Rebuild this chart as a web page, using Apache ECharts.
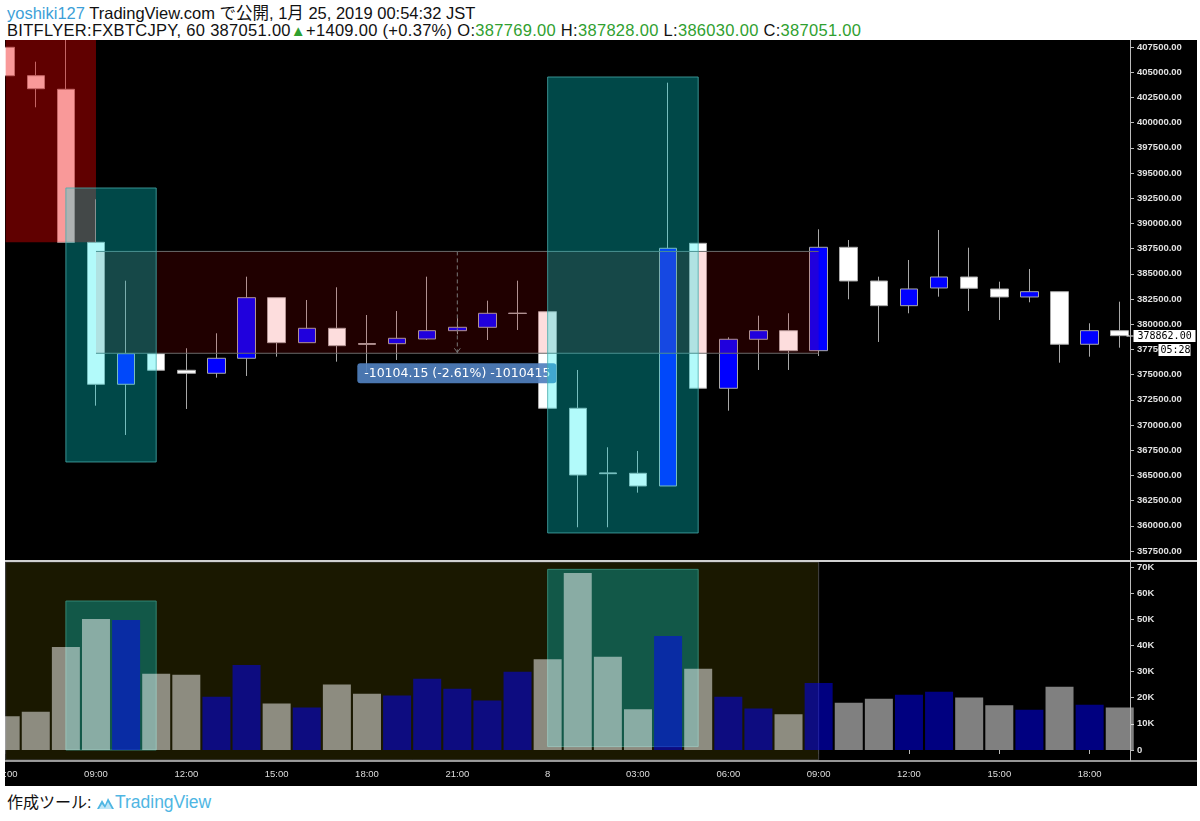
<!DOCTYPE html>
<html><head><meta charset="utf-8">
<script src="https://cdn.jsdelivr.net/npm/echarts@6/dist/echarts.min.js"></script>
<style>
html,body{margin:0;padding:0;background:#fff;width:1200px;height:821px;overflow:hidden;font-family:"Liberation Sans","Noto Sans CJK JP",sans-serif;}
.hl{position:absolute;left:7px;font-size:16.5px;line-height:18px;color:#111;white-space:nowrap}
#h1{top:4px}
#h2{top:21px;letter-spacing:0.3px}
.b{color:#3d9fd8}
.g{color:#2fa02f}
.tri{color:#2fa02f;font-size:15px}
#wrap{position:absolute;left:5px;top:40px;width:1192px;height:746px;background:#000;overflow:hidden}
#chart{position:absolute;left:-15px;top:0;width:1207px;height:746px}
#foot{position:absolute;left:7px;top:793px;font-size:16px;line-height:19px;color:#111;white-space:nowrap}
#foot svg{vertical-align:-3px}
#foot .tv{color:#4fb6e3;font-size:17.5px}
</style></head>
<body>
<div id="h1" class="hl"><span class="b">yoshiki127</span> TradingView.com で公開, 1月 25, 2019 00:54:32 JST</div>
<div id="h2" class="hl">BITFLYER:FXBTCJPY, 60 387051.00<span class="tri">▲</span>+1409.00 (+0.37%) O:<span class="g">387769.00</span> H:<span class="g">387828.00</span> L:<span class="g">386030.00</span> C:<span class="g">387051.00</span></div>
<div id="wrap"><div id="chart"></div></div>
<div id="foot">作成ツール: <svg width="19" height="15" viewBox="0 0 19 15"><path d="M1 13 L6 4 L9 9 L12 2 L18 13 Z" fill="#4fb6e3"/><path d="M3 13 L6 8 L9 12 L12 6 L16 13 Z" fill="#bfe6f7"/></svg><span class="tv">TradingView</span></div>
<script>
// ---- categories (60-minute bars, 7th 06:00 -> 8th 19:00) ----
const categories = ['07 06:00','07 07:00','07 08:00','07 09:00','07 10:00','07 11:00','07 12:00','07 13:00','07 14:00','07 15:00','07 16:00','07 17:00','07 18:00','07 19:00','07 20:00','07 21:00','07 22:00','07 23:00','08 00:00','08 01:00','08 02:00','08 03:00','08 04:00','08 05:00','08 06:00','08 07:00','08 08:00','08 09:00','08 10:00','08 11:00','08 12:00','08 13:00','08 14:00','08 15:00','08 16:00','08 17:00','08 18:00','08 19:00'];

// ---- OHLC ----
const opens  = [407470,404653,403304,388126,374040,377075,375429,375131,376619,382631,378167,379595,378080,378067,378534,379357,379694,381060,381242,371659,365250,365211,363951,388027,373643,378504,379357,377373,387630,384287,381837,383593,384684,383494,382700,383226,378008,379357];
const closes = [404653,403363,388126,374040,377075,375429,375131,376619,382631,378167,379595,377869,378000,378603,379357,379694,381083,381100,371659,365042,365170,363951,387531,373643,378504,379357,377373,387630,384287,381837,383494,384684,383563,382700,383226,378008,379357,378862];
const highs  = [407470,406042,408300,392392,384317,377075,377611,379099,384714,382631,382402,383662,380914,381311,384714,380600,382333,384317,381242,375458,367790,367423,403959,388027,378700,380845,381083,389416,388354,384714,386370,389346,387591,384218,385478,383226,380091,382234];
const lows   = [404653,401518,388126,371917,369010,375429,371590,374695,374863,376778,378167,376282,375260,376450,378434,379000,378434,379426,371659,359854,359854,363287,363951,373643,371421,375458,375458,376847,382472,378236,381083,382730,381311,380418,382174,376183,376778,377671];

// ---- volume ----
const volumes = [12900,14600,39400,50100,49700,29200,28800,20400,32500,17800,16300,25100,21500,20800,27300,23400,18900,29900,34700,67700,35700,15600,43600,31100,20400,15900,13700,25600,18100,19600,21100,22300,20100,17100,15400,24200,17300,16300];

// ---- price axis / volume axis ----
const priceMin = 357500, priceMax = 407500, priceStep = 2500;
const volMin = 0, volMax = 70000, volStep = 10000;

// ---- drawings (category index from/to, price top/bottom) ----
const mainZones = [[0,3,408200,388130],[2,5,393513,366332],[18,23,404524,359289]];
const rangeBox = [[3,27,387219,377115,15]];      // from, to, start price, end price, ruler index
const rangeDelta = -10104.15, rangePct = -2.61, rangeTicks = -1010415;
const volZones = [[0,27,71900,-3800],[2,5,57000,0],[18,23,69100,1300]];
const lastPrice = [[37,378862]];
const countdown = '05:28';

const zoneFill = ['rgba(240,0,0,0.4)','rgba(0,240,240,0.3)','rgba(0,240,240,0.3)'];
const zoneStroke = [null,'rgba(70,170,170,0.8)','rgba(70,170,170,0.8)'];
const volFill = ['#1a1800','rgba(0,240,240,0.3)','rgba(0,240,240,0.3)'];
const volStroke = ['#444','rgba(60,150,130,0.8)','rgba(60,150,130,0.8)'];

const chart = echarts.init(document.getElementById('chart'));
const labelFmt = v => v.slice(3) === '00:00' ? String(+v.slice(0,2)) : v.slice(3);

function zoneRender(fills, strokes){
  return function(params, api){
    const i = params.dataIndex;
    const a = api.coord([api.value(0), api.value(2)]);
    const b = api.coord([api.value(1), api.value(3)]);
    return {type:'rect', shape:{x:a[0], y:a[1], width:b[0]-a[0], height:b[1]-a[1]},
      style:{fill:fills[i], stroke:strokes[i] || null, lineWidth:1}};
  };
}

const axisText = {color:'#e0e0e0', fontSize:9.5, fontWeight:'bold', margin:7, fontFamily:'Liberation Sans'};

const option = {
  backgroundColor:'#000',
  animation:false,
  grid:[
    {left:0.6, width:1144.2, top:7, height:504},
    {left:0.6, width:1144.2, top:527, height:183}
  ],
  xAxis:[
    {type:'category', gridIndex:0, data:categories, axisLine:{show:false}, axisTick:{show:false}, axisLabel:{show:false}, splitLine:{show:false}},
    {type:'category', gridIndex:1, data:categories, offset:11, axisLine:{show:false},
     axisTick:{show:true, alignWithLabel:true, interval:2, length:4, lineStyle:{color:'#bbb'}},
     axisLabel:{interval:2, color:'#ddd', fontSize:9.5, margin:8, formatter:labelFmt, fontFamily:'Liberation Sans'}, splitLine:{show:false}}
  ],
  yAxis:[
    {type:'value', gridIndex:0, position:'right', offset:-4.8, min:priceMin, max:priceMax, interval:priceStep,
     axisLine:{show:false}, axisTick:{show:true, length:4, lineStyle:{color:'#bbb'}},
     axisLabel:Object.assign({formatter:v=>v.toFixed(2)}, axisText), splitLine:{show:false}},
    {type:'value', gridIndex:1, position:'right', offset:-4.8, min:volMin, max:volMax, interval:volStep,
     axisLine:{show:false}, axisTick:{show:true, length:4, lineStyle:{color:'#bbb'}},
     axisLabel:Object.assign({formatter:v=>v===0?'0':(v/1000)+'K'}, axisText), splitLine:{show:false}}
  ],
  graphic:[
    {type:'line', shape:{x1:15,y1:521,x2:1207,y2:521}, style:{stroke:'#d0d0d0', lineWidth:2}, z:50},
    {type:'line', shape:{x1:15,y1:721,x2:1207,y2:721}, style:{stroke:'#c8c8c8', lineWidth:1.5}, z:50},
    {type:'line', shape:{x1:1140.5,y1:0,x2:1140.5,y2:721}, style:{stroke:'#bbbbbb', lineWidth:1}, z:50}
  ],
  series:[
    {type:'custom', name:'volZones', xAxisIndex:1, yAxisIndex:1, z:1, silent:true, clip:false,
     encode:{x:[0,1], y:[2,3]}, data:volZones, renderItem:zoneRender(volFill, volStroke)},
    {type:'bar', name:'volume', xAxisIndex:1, yAxisIndex:1, z:2, barWidth:28,
     data:volumes.map((v,i)=>({value:v, itemStyle:{color: closes[i] >= opens[i] ? 'rgba(0,0,255,0.5)' : 'rgba(255,255,255,0.5)'}}))},
    {type:'candlestick', name:'price', xAxisIndex:0, yAxisIndex:0, z:2, clip:false, barWidth:18,
     data:opens.map((o,i)=>[o, closes[i], lows[i], highs[i]]),
     itemStyle:{color:'#0000ff', color0:'#ffffff', borderColor:'#a8a8a8', borderColor0:'#a8a8a8', borderWidth:1}},
    {type:'custom', name:'range', xAxisIndex:0, yAxisIndex:0, z:3, silent:true, clip:false,
     encode:{x:[0,1,4], y:[2,3]}, data:rangeBox,
     renderItem(params, api){
       const a = api.coord([api.value(0), api.value(2)]);
       const b = api.coord([api.value(1), api.value(3)]);
       const m = api.coord([api.value(4), api.value(2)]);
       const mx = m[0];
       const txt = rangeDelta.toFixed(2) + ' (' + rangePct.toFixed(2) + '%) ' + rangeTicks;
       return {type:'group', children:[
         {type:'rect', shape:{x:a[0], y:a[1], width:b[0]-a[0], height:b[1]-a[1]}, style:{fill:'rgba(240,0,0,0.133)'}},
         {type:'line', shape:{x1:a[0], y1:a[1], x2:b[0], y2:a[1]}, style:{stroke:'#6a6a6a', lineWidth:1}},
         {type:'line', shape:{x1:a[0], y1:b[1], x2:b[0], y2:b[1]}, style:{stroke:'#6a6a6a', lineWidth:1}},
         {type:'line', shape:{x1:mx, y1:a[1], x2:mx, y2:b[1]}, style:{stroke:'#777', lineWidth:1, lineDash:[4,3]}},
         {type:'polyline', shape:{points:[[mx-3,b[1]-5],[mx,b[1]-1],[mx+3,b[1]-5]]}, style:{stroke:'#777', lineWidth:1, fill:null}},
         {type:'rect', shape:{x:mx-100, y:b[1]+10, width:199, height:20, r:3}, style:{fill:'rgba(80,128,190,0.92)'}, z2:5},
         {type:'text', x:mx, y:b[1]+20, style:{text:txt, fill:'#fff', font:'12.5px "DejaVu Sans"', align:'center', verticalAlign:'middle'}, z2:6}
       ]};
     }},
    {type:'custom', name:'zones', xAxisIndex:0, yAxisIndex:0, z:4, silent:true, clip:false,
     encode:{x:[0,1], y:[2,3]}, data:mainZones, renderItem:zoneRender(zoneFill, zoneStroke)},
    {type:'custom', name:'lastPrice', xAxisIndex:0, yAxisIndex:0, z:10, silent:true, clip:false,
     encode:{x:0, y:1}, data:lastPrice,
     renderItem(params, api){
       const p = api.coord([api.value(0), api.value(1)]);
       const x = 1140.5;
       const y = Math.round(p[1]);
       return {type:'group', children:[
         {type:'line', shape:{x1:x-4, y1:y, x2:x+3, y2:y}, style:{stroke:'#fff', lineWidth:1}},
         {type:'rect', shape:{x:x+3, y:y-6, width:62, height:12}, style:{fill:'#fff'}},
         {type:'text', x:x+7, y:y, style:{text:api.value(1).toFixed(2), fill:'#000', font:'10px "DejaVu Sans Mono"', verticalAlign:'middle'}},
         {type:'rect', shape:{x:x+28, y:y+8, width:32, height:12}, style:{fill:'#fff'}},
         {type:'text', x:x+30, y:y+14, style:{text:countdown, fill:'#000', font:'10px "DejaVu Sans Mono"', verticalAlign:'middle'}}
       ]};
     }}
  ]
};
chart.setOption(option);
</script>
</body></html>
